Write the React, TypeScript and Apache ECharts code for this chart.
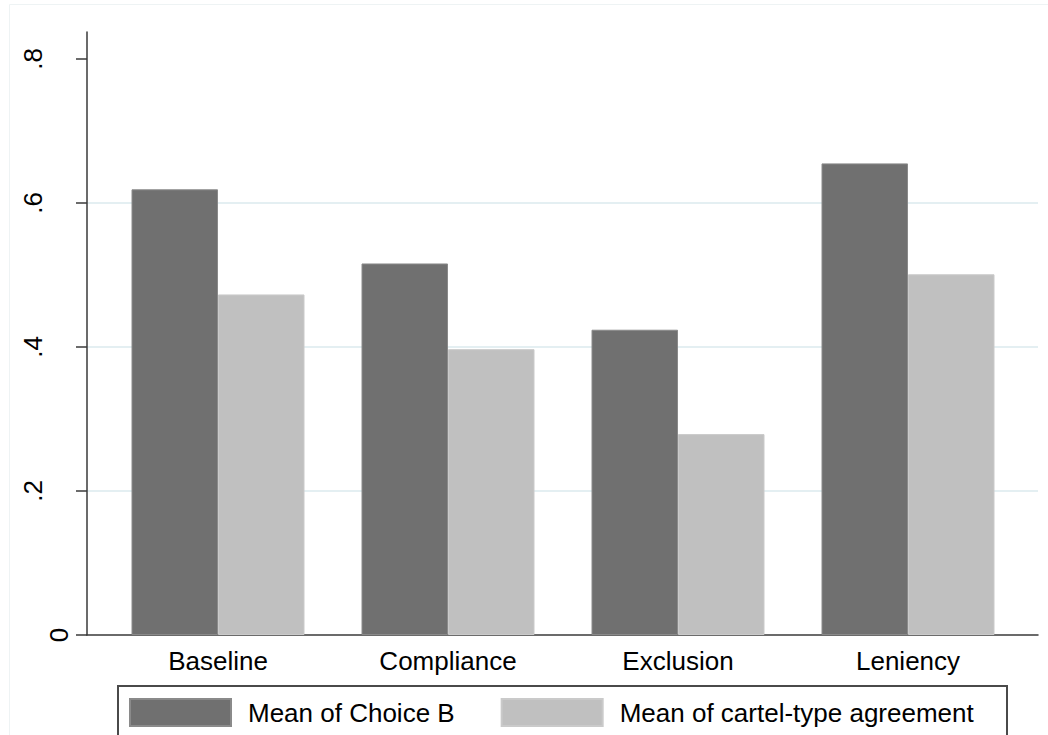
import React, { useEffect, useRef } from "react";
import * as echarts from "echarts";

const categories = ["Baseline", "Compliance", "Exclusion", "Leniency"];
const choiceB = [0.619, 0.516, 0.424, 0.655];
const cartel = [0.473, 0.397, 0.279, 0.501];
const seriesNames = ["Mean of Choice B", "Mean of cartel-type agreement"];
const yTicks = [0, 0.2, 0.4, 0.6, 0.8];
const yTickLabels = ["0", ".2", ".4", ".6", ".8"];

const FONT = "'Liberation Sans', Arial, sans-serif";

function labelFor(v: number): string {
  const i = yTicks.findIndex((t) => Math.abs(t - v) < 1e-9);
  return i >= 0 ? yTickLabels[i] : "";
}

export default function App() {
  const ref = useRef<HTMLDivElement>(null);
  useEffect(() => {
    if (!ref.current) return;
    const chart = echarts.init(ref.current, null, { renderer: "svg" });
    const gridColor = "#e4eff2";
    const axisColor = "#3a3a3a";
    const yMax = 0.8375;
    chart.setOption({
      animation: false,
      backgroundColor: "#ffffff",
      textStyle: { fontFamily: FONT },
      grid: [
        { left: 87, top: 32, width: 951, height: 603, containLabel: false, outerBoundsMode: "none" },
        { left: 103, top: 32, width: 920, height: 603, containLabel: false, outerBoundsMode: "none" },
      ],
      xAxis: [
        {
          type: "value",
          gridIndex: 0,
          min: 0,
          max: 1,
          axisLine: { show: true, onZero: false, lineStyle: { color: axisColor, width: 1.5 } },
          axisTick: { show: false },
          axisLabel: { show: false },
          splitLine: { show: false },
        },
        {
          type: "category",
          gridIndex: 1,
          data: categories,
          axisLine: { show: false },
          axisTick: { show: false },
          splitLine: { show: false },
          axisLabel: { fontSize: 26, color: "#000", margin: 13, fontFamily: FONT, interval: 0 },
        },
      ],
      yAxis: [
        {
          type: "value",
          gridIndex: 0,
          position: "left",
          min: 0,
          max: yMax,
          interval: 0.2,
          axisLine: { show: true, lineStyle: { color: axisColor, width: 1.5 } },
          axisTick: {
            show: true,
            length: 11,
            customValues: yTicks,
            lineStyle: { color: axisColor, width: 1.5 },
          },
          axisLabel: {
            rotate: 90,
            fontSize: 26,
            color: "#000",
            margin: 41,
            fontFamily: FONT,
            customValues: yTicks.slice(1),
            formatter: (v: number) => (Math.abs(v) < 1e-9 ? "" : labelFor(v)),
          },
          splitLine: {
            show: true,
            lineStyle: {
              color: ["rgba(0,0,0,0)", gridColor, gridColor, gridColor, "rgba(0,0,0,0)", "rgba(0,0,0,0)"],
              width: 2,
            },
          },
        },
        {
          type: "value",
          gridIndex: 0,
          position: "left",
          offset: 0,
          min: 0,
          max: yMax,
          interval: 0.2,
          axisLine: { show: false },
          axisTick: { show: false },
          splitLine: { show: false },
          axisLabel: {
            rotate: 90,
            fontSize: 26,
            color: "#000",
            margin: 15,
            fontFamily: FONT,
            customValues: [0],
            formatter: (v: number) => (Math.abs(v) < 1e-9 ? labelFor(v) : ""),
          },
        },
        {
          type: "value",
          gridIndex: 1,
          min: 0,
          max: yMax,
          show: false,
          splitLine: { show: false },
        },
      ],
      legend: {
        left: 129,
        top: 698,
        padding: 0,
        itemWidth: 101,
        itemHeight: 27,
        itemGap: 46,
        icon: "rect",
        data: seriesNames,
        textStyle: { fontSize: 26, color: "#000", fontFamily: FONT, padding: [0, 0, 0, 12] },
      },
      graphic: [
        {
          type: "rect",
          shape: { x: 9.5, y: 4.5, width: 1100, height: 800 },
          style: { fill: "none", stroke: "#eef3f4", lineWidth: 1 },
          silent: true,
        },
        {
          type: "rect",
          shape: { x: 118, y: 686, width: 889, height: 100 },
          style: { fill: "none", stroke: "#4a4a4a", lineWidth: 2 },
          silent: true,
        },
      ],
      series: [
        {
          name: seriesNames[0],
          type: "bar",
          xAxisIndex: 1,
          yAxisIndex: 2,
          data: choiceB,
          barWidth: 86.5,
          barGap: "0%",
          itemStyle: { color: "#707070", borderColor: "#8a8a8a", borderWidth: 1 },
        },
        {
          name: seriesNames[1],
          type: "bar",
          xAxisIndex: 1,
          yAxisIndex: 2,
          data: cartel,
          barWidth: 86.5,
          barGap: "0%",
          itemStyle: { color: "#c0c0c0", borderColor: "#cacaca", borderWidth: 1 },
        },
      ],
    });
    return () => chart.dispose();
  }, []);
  return (
    <div
      ref={ref}
      style={{ position: "fixed", left: 0, top: 0, width: 1048, height: 735, background: "#fff" }}
    />
  );
}
